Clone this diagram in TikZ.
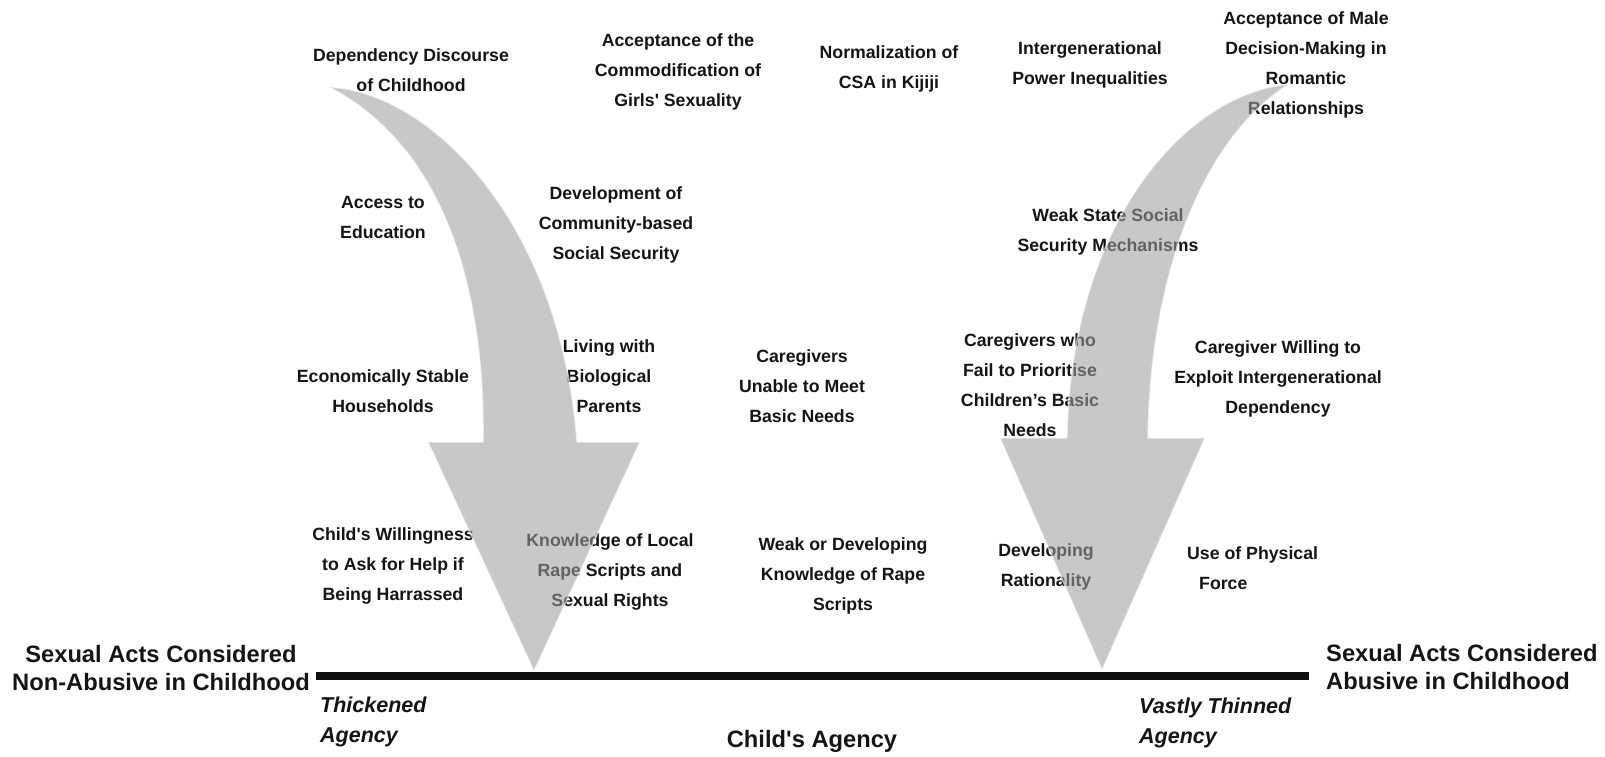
\documentclass[tikz,border=0pt]{standalone}
\usepackage{fontspec}
\setmainfont{Liberation Sans}[Ligatures=TeXOff]
\begin{document}
\begin{tikzpicture}[x=1pt,y=-1pt,
  lbl/.style={font=\fontsize{17.7}{30}\selectfont\bfseries, align=center, inner sep=0pt, text=black!92},
  big/.style={font=\fontsize{23.7}{28}\selectfont\bfseries, inner sep=0pt, text=black!92},
  ital/.style={font=\fontsize{21.5}{30}\selectfont\bfseries\itshape, align=left, inner sep=0pt, text=black!92, anchor=west},
  bigarrow/.style={fill=black!38, fill opacity=0.57, draw=white, draw opacity=0.6, line width=1.4pt, line join=miter}]
\path[use as bounding box] (0,0) rectangle (1605,756);

% factor labels, top row
\node[lbl] (dep)   at (411,70)  {Dependency Discourse\\of Childhood};
\node[lbl] (comm)  at (678,72)  {Acceptance of the\\Commodification of\\Girls' Sexuality};
\node[lbl] (norm)  at (889,69)  {Normalization of\\CSA in Kijiji};
\node[lbl] (inter) at (1090,65) {Intergenerational\\Power Inequalities};
\node[lbl] (male)  at (1306,65) {Acceptance of Male\\Decision-Making in\\Romantic\\Relationships};

% second row
\node[lbl] (acc)  at (383,217)  {Access to\\Education};
\node[lbl] (dev)  at (616,225)  {Development of\\Community-based\\Social Security};
\node[lbl] (weak) at (1108,232) {Weak State Social\\Security Mechanisms};

% third row
\node[lbl] (econ) at (383,391)  {Economically Stable\\Households};
\node[lbl] (liv)  at (609,376)  {Living with\\Biological\\Parents};
\node[lbl] (care) at (802,386)  {Caregivers\\Unable to Meet\\Basic Needs};
\node[lbl] (fail) at (1030,385) {Caregivers who\\Fail to Prioritise\\Children’s Basic\\Needs};
\node[lbl] (will) at (1278,379) {Caregiver Willing to\\Exploit Intergenerational\\Dependency};

% fourth row
\node[lbl] (ask)   at (393,566)  {Child's Willingness\\to Ask for Help if\\Being Harrassed};
\node[lbl] (know)  at (610,572)  {Knowledge of Local\\Rape Scripts and\\Sexual Rights};
\node[lbl] (wdev)  at (843,576)  {Weak or Developing\\Knowledge of Rape\\Scripts};
\node[lbl] (rat)   at (1046,567) {Developing\\Rationality};
\node[lbl, align=left, anchor=west] (force) at (1187,568) {Use of Physical\\\hspace*{12pt}Force};

% the agency axis
\coordinate (axisL) at (316,676);
\coordinate (axisR) at (1309,676);
\draw[line width=8pt, black!94] (axisL) -- (axisR);

\node[big, align=center] (nonab) at (161,668) {Sexual Acts Considered\\Non-Abusive in Childhood};
\node[big, align=left, anchor=west] (abus) at (1326,667) {Sexual Acts Considered\\Abusive in Childhood};
\node[big] (agency) at (812,741) {Child's Agency};
\node[ital] (thick) at (320,722) {Thickened\\Agency};
\node[ital] (thin)  at (1139,723) {Vastly Thinned\\Agency};

% curved arrow towards thickened agency
\path[bigarrow] (329,87) .. controls (430,92) and (560,220) .. (577,442)
  -- (640,442) -- (534,671) -- (428,442) -- (483,442)
  .. controls (485,300) and (450,150) .. (329,87) -- cycle;

% curved arrow towards vastly thinned agency
\path[bigarrow] (1289,84) .. controls (1180,95) and (1070,230) .. (1067,438)
  -- (1000,438) -- (1102,670) -- (1205,438) -- (1148,438)
  .. controls (1150,280) and (1200,140) .. (1289,84) -- cycle;
\end{tikzpicture}
\end{document}
